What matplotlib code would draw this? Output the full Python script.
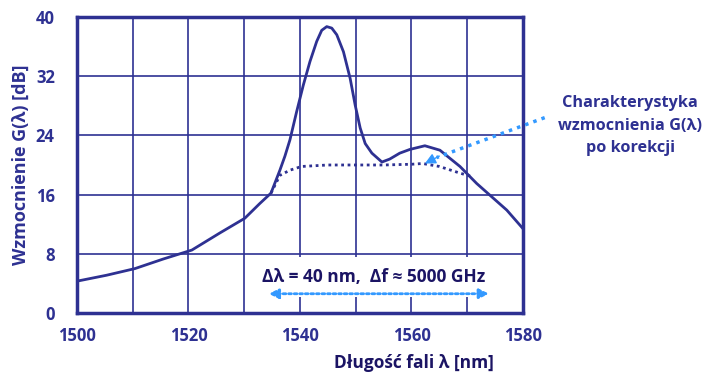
import matplotlib.pyplot as plt

# wzmocnienie przed korekcją
wl_main = [1500, 1505.3, 1510.4, 1515.5, 1520.6, 1525.6, 1530.1, 1532.8, 1534.8, 1536.4, 1537.3,
           1538.2, 1539.4, 1540.6, 1541.8, 1543.0, 1543.9, 1544.8, 1545.7, 1546.6, 1547.8,
           1549.0, 1549.9, 1550.8, 1551.7, 1552.9, 1554.7, 1556.1, 1557.9, 1559.7, 1562.4,
           1565.1, 1568.7, 1571.7, 1577.1, 1580]
gain_main = [4.3, 5.1, 6.0, 7.3, 8.5, 10.8, 12.8, 14.8, 16.2, 19.3, 21.2,
             23.4, 27.2, 30.8, 34.0, 36.7, 38.2, 38.7, 38.5, 37.6, 35.3,
             31.7, 28.1, 25.0, 22.9, 21.6, 20.4, 20.8, 21.6, 22.1, 22.6,
             22.0, 19.8, 17.5, 13.9, 11.4]

# po korekcji
wl_corr = [1534.8, 1536.4, 1538.2, 1540.3, 1545, 1550, 1555, 1560, 1562, 1565, 1568.7, 1571]
gain_corr = [16.2, 18.6, 19.3, 19.8, 20.0, 20.0, 20.0, 20.1, 20.2, 19.8, 18.9, 18.4]

xticks = [1500, 1520, 1540, 1560, 1580]
yticks = [0, 8, 16, 24, 32, 40]

navy = '#2e3192'
dark = '#1b1464'
light = '#3399ff'
plt.rcParams['font.family'] = ['Open Sans', 'DejaVu Sans']
plt.rcParams['font.weight'] = 'bold'

fig = plt.figure(figsize=(7.05, 3.76), dpi=100)
ax = fig.add_axes([0.1092, 0.1676, 0.6326, 0.7872])

ax.plot(wl_main, gain_main, color=navy, lw=2, zorder=3)
ax.plot(wl_corr, gain_corr, color=navy, lw=2, linestyle=(0, (1, 1.3)), zorder=3)

ax.set_xlim(1500, 1580)
ax.set_ylim(0, 40)
ax.set_xticks(range(1500, 1581, 10))
ax.set_xticklabels([str(v) if v in xticks else '' for v in range(1500, 1581, 10)])
ax.set_yticks(yticks)
ax.set_yticklabels([str(v) for v in yticks])
ax.grid(True, color=navy, lw=1.2, zorder=1)
ax.tick_params(length=0, labelsize=12, labelcolor=navy, pad=10)
ax.tick_params(axis='y', pad=16)
for lab in ax.get_xticklabels() + ax.get_yticklabels():
    lab.set_fontweight('bold')
for s in ax.spines.values():
    s.set_color(navy)
    s.set_linewidth(2.5)

ax.set_ylabel('Wzmocnienie G(λ) [dB]', fontsize=13, fontweight='bold', color=navy, labelpad=4)
ax.set_xlabel('Długość fali λ [nm]', fontsize=12.5, fontweight='bold', color=dark)
ax.xaxis.set_label_coords(0.756, -0.14)

# pasmo
ax.text(1553.3, 4.9, 'Δλ = 40 nm,  Δf ≈ 5000 GHz', ha='center', va='center', fontsize=12.5,
        fontweight='bold', color=dark, zorder=4,
        bbox=dict(facecolor='white', edgecolor='none', pad=8))
ax.annotate('', xy=(1534.4, 2.6), xytext=(1573.9, 2.6), zorder=5,
            arrowprops=dict(arrowstyle='<|-|>', color=light, lw=2, linestyle=(0, (1, 1)),
                            mutation_scale=14, shrinkA=0, shrinkB=0))

# opis krzywej po korekcji
ax.plot([1583.9, 1564.5], [26.4, 21.0], color=light, lw=2.5, linestyle=(0, (1, 1.5)),
        clip_on=False, zorder=5)
ax.annotate('', xy=(1562.4, 20.2), xytext=(1565.0, 21.2), zorder=5,
            arrowprops=dict(arrowstyle='-|>', color=light, lw=1, mutation_scale=16,
                            shrinkA=0, shrinkB=0))
ax.text(1599.2, 25.3, 'Charakterystyka\nwzmocnienia G(λ)\npo korekcji', ha='center', va='center',
        fontsize=11.7, fontweight='bold', color=navy, linespacing=1.55, clip_on=False)

plt.savefig('out.png', dpi=100)
